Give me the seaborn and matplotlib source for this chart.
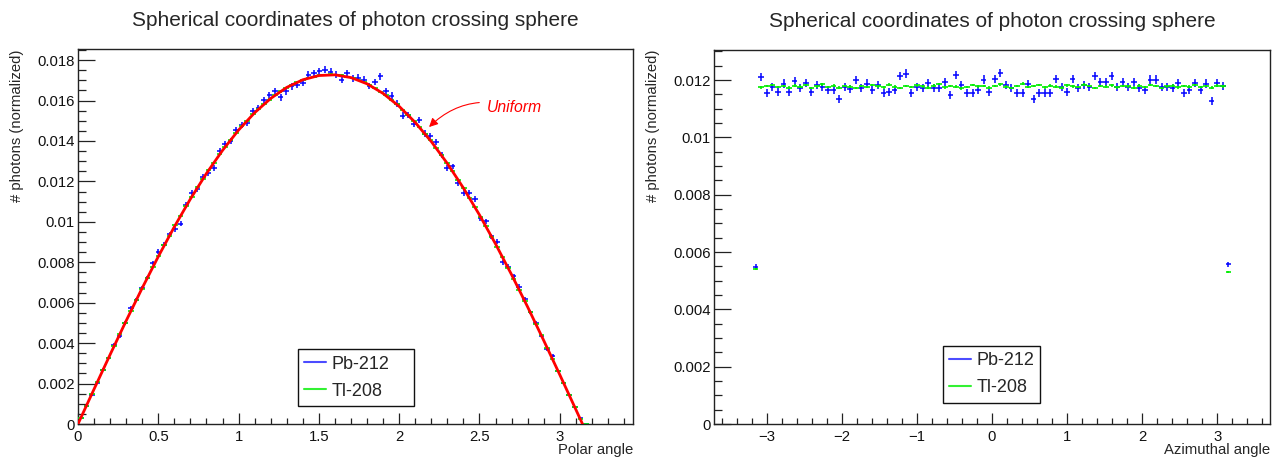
import numpy as np
import pandas as pd
import matplotlib
matplotlib.use("Agg")
import matplotlib.pyplot as plt
from matplotlib.ticker import MultipleLocator, FuncFormatter
from matplotlib.lines import Line2D
import seaborn as sns

# ---------------- text ----------------
TITLE = "Spherical coordinates of photon crossing sphere"
YLABEL = "# photons (normalized)"
XLABEL_POLAR = "Polar angle"
XLABEL_AZIM = "Azimuthal angle"
SERIES = ["Pb-212", "Tl-208"]
FIT_LABEL = "Uniform"

# ---------------- histogram binning ----------------
POLAR_BINS = (100, 0.0, 3.456)     # nbins, low, high
AZIM_BINS = (100, -3.7, 3.7)
POLAR_FIRST_BIN = 0
AZIM_FIRST_BIN = 7

# entries (for statistical error bars)
N_PB = 6.0e5
N_TL = 6.0e6

# ---------------- data: polar angle ----------------
polar_pb = [
    0.00030, 0.00090, 0.00144, 0.00204, 0.00268, 0.00327, 0.00391, 0.00436, 0.00500, 0.00573,
    0.00613, 0.00674, 0.00721, 0.00796, 0.00853, 0.00886, 0.00938, 0.00963, 0.00991, 0.01084,
    0.01144, 0.01164, 0.01224, 0.01241, 0.01266, 0.01348, 0.01385, 0.01401, 0.01455, 0.01480,
    0.01488, 0.01546, 0.01563, 0.01603, 0.01626, 0.01647, 0.01616, 0.01645, 0.01670, 0.01677,
    0.01688, 0.01728, 0.01736, 0.01744, 0.01752, 0.01743, 0.01727, 0.01704, 0.01736, 0.01711,
    0.01712, 0.01703, 0.01672, 0.01692, 0.01719, 0.01645, 0.01624, 0.01585, 0.01525, 0.01528,
    0.01485, 0.01505, 0.01437, 0.01423, 0.01393, 0.01330, 0.01266, 0.01274, 0.01192, 0.01142,
    0.01145, 0.01114, 0.01018, 0.01002, 0.00928, 0.00902, 0.00799, 0.00779, 0.00733, 0.00680,
    0.00616, 0.00552, 0.00502, 0.00437, 0.00370, 0.00337, 0.00262, 0.00203, 0.00143, 0.00084,
    0.00030, 0.0,
]
polar_tl = [
    0.00030, 0.00089, 0.00150, 0.00208, 0.00268, 0.00326, 0.00384, 0.00443, 0.00500, 0.00558,
    0.00613, 0.00670, 0.00722, 0.00778, 0.00829, 0.00883, 0.00932, 0.00984, 0.01030, 0.01079,
    0.01123, 0.01170, 0.01211, 0.01255, 0.01293, 0.01334, 0.01369, 0.01407, 0.01439, 0.01473,
    0.01501, 0.01532, 0.01557, 0.01584, 0.01605, 0.01628, 0.01645, 0.01664, 0.01677, 0.01693,
    0.01702, 0.01713, 0.01718, 0.01725, 0.01726, 0.01729, 0.01726, 0.01724, 0.01717, 0.01712,
    0.01701, 0.01691, 0.01676, 0.01662, 0.01643, 0.01626, 0.01602, 0.01581, 0.01554, 0.01529,
    0.01498, 0.01470, 0.01436, 0.01404, 0.01366, 0.01331, 0.01290, 0.01251, 0.01207, 0.01166,
    0.01119, 0.01075, 0.01025, 0.00979, 0.00927, 0.00878, 0.00824, 0.00773, 0.00717, 0.00664,
    0.00607, 0.00553, 0.00494, 0.00438, 0.00378, 0.00321, 0.00262, 0.00202, 0.00144, 0.00083,
    0.00025, 0.0,
]

# "Uniform" expectation curve
uniform_theta = [0.0, 0.1, 0.2, 0.3, 0.4, 0.5, 0.6, 0.7, 0.8, 0.9, 1.0, 1.1, 1.2, 1.3, 1.4, 1.5,
                 1.6, 1.7, 1.8, 1.9, 2.0, 2.1, 2.2, 2.3, 2.4, 2.5, 2.6, 2.7, 2.8, 2.9, 3.0, 3.1, 3.1416]
uniform_value = [0.0, 0.001725, 0.003433, 0.005107, 0.006729, 0.008284, 0.009757, 0.011132,
                 0.012396, 0.013536, 0.014541, 0.015400, 0.016105, 0.016651, 0.017028, 0.017237,
                 0.017273, 0.017136, 0.016828, 0.016352, 0.015713, 0.014917, 0.013971, 0.012886,
                 0.011673, 0.010342, 0.008908, 0.007385, 0.005789, 0.004133, 0.002439, 0.000718, 0.0]

# ---------------- data: azimuthal angle ----------------
azim_pb = [
    0.00549,
    0.01211, 0.01154, 0.01177, 0.01160, 0.01188, 0.01160, 0.01198, 0.01171, 0.01191, 0.01157, 0.01183, 0.01177,
    0.01165, 0.01165, 0.01133, 0.01177, 0.01168, 0.01200, 0.01171, 0.01188, 0.01165, 0.01183, 0.01154, 0.01160,
    0.01165, 0.01214, 0.01223, 0.01154, 0.01177, 0.01171, 0.01191, 0.01171, 0.01171, 0.01194, 0.01148, 0.01217,
    0.01183, 0.01154, 0.01154, 0.01165, 0.01202, 0.01160, 0.01204, 0.01225, 0.01183, 0.01171, 0.01154, 0.01154,
    0.01185, 0.01133, 0.01154, 0.01154, 0.01154, 0.01204, 0.01177, 0.01157, 0.01204, 0.01171, 0.01183, 0.01177,
    0.01214, 0.01194, 0.01194, 0.01214, 0.01177, 0.01194, 0.01177, 0.01194, 0.01171, 0.01165, 0.01202, 0.01202,
    0.01177, 0.01177, 0.01171, 0.01191, 0.01154, 0.01165, 0.01191, 0.01165, 0.01188, 0.01128, 0.01191, 0.01180,
    0.00557,
]
azim_tl = [
    0.00541,
    0.01175, 0.01180, 0.01183, 0.01176, 0.01179, 0.01174, 0.01181, 0.01177, 0.01183, 0.01172, 0.01178, 0.01185,
    0.01176, 0.01181, 0.01174, 0.01179, 0.01177, 0.01172, 0.01180, 0.01176, 0.01183, 0.01178, 0.01175, 0.01184,
    0.01177, 0.01173, 0.01180, 0.01176, 0.01182, 0.01178, 0.01174, 0.01181, 0.01186, 0.01175, 0.01179, 0.01177,
    0.01171, 0.01176, 0.01183, 0.01178, 0.01180, 0.01174, 0.01179, 0.01185, 0.01177, 0.01173, 0.01180, 0.01188,
    0.01176, 0.01179, 0.01183, 0.01175, 0.01181, 0.01177, 0.01174, 0.01182, 0.01178, 0.01176, 0.01184, 0.01180,
    0.01173, 0.01179, 0.01177, 0.01182, 0.01175, 0.01180, 0.01178, 0.01174, 0.01181, 0.01176, 0.01183, 0.01179,
    0.01172, 0.01178, 0.01181, 0.01175, 0.01180, 0.01177, 0.01183, 0.01176, 0.01179, 0.01174, 0.01181, 0.01178,
    0.00531,
]

# ---------------- style ----------------
PB_COLOR = "#0000ff"
TL_COLOR = "#00ee00"
FIT_COLOR = "#ff0000"

sns.set_style("white")
plt.rcParams["font.family"] = ["Liberation Sans", "DejaVu Sans"]
plt.rcParams["axes.unicode_minus"] = True


def bin_centers(spec, first, count):
    n, lo, hi = spec
    edges = np.linspace(lo, hi, n + 1)
    centers = 0.5 * (edges[:-1] + edges[1:])
    return centers[first:first + count], (hi - lo) / n


def draw_hist(ax, spec, first, values, n_entries, color, lw):
    vals = np.asarray(values, dtype=float)
    x, w = bin_centers(spec, first, len(vals))
    err = np.sqrt(vals / n_entries)
    ax.errorbar(x, vals, xerr=w / 2, yerr=err, fmt="none", ecolor=color,
                elinewidth=lw, capsize=0, zorder=3)


def fmt_num(v, pos):
    if abs(v) < 1e-12:
        return "0"
    s = f"{v:g}"
    return s.replace("-", "\u2212")


fig = plt.figure(figsize=(12.77, 4.62), dpi=100)
W, H = 1277, 462
axL = fig.add_axes([78 / W, (H - 424) / H, 555 / W, 375 / H])
axR = fig.add_axes([714 / W, (H - 424) / H, 556 / W, 374 / H])

# ---- left: polar ----
draw_hist(axL, POLAR_BINS, POLAR_FIRST_BIN, polar_pb, N_PB, PB_COLOR, 1.1)
draw_hist(axL, POLAR_BINS, POLAR_FIRST_BIN, polar_tl, N_TL, TL_COLOR, 1.2)
fit_df = pd.DataFrame({"theta": uniform_theta, "value": uniform_value})
sns.lineplot(data=fit_df, x="theta", y="value", ax=axL, color=FIT_COLOR,
             linewidth=2.0, sort=False, zorder=4, legend=False)
axL.set_xlim(POLAR_BINS[1], POLAR_BINS[2])
axL.set_ylim(0, 0.01855)
axL.xaxis.set_major_locator(MultipleLocator(0.5))
axL.xaxis.set_minor_locator(MultipleLocator(0.1))
axL.yaxis.set_major_locator(MultipleLocator(0.002))
axL.yaxis.set_minor_locator(MultipleLocator(0.0005))

axL.annotate(FIT_LABEL, xy=(2.186, 0.01469), xytext=(2.545, 0.01568),
             color=FIT_COLOR, fontsize=11.3, style="italic", ha="left", va="center",
             arrowprops=dict(arrowstyle="-|>", color=FIT_COLOR, lw=0.8,
                             connectionstyle="arc3,rad=0.3", shrinkA=3, shrinkB=0,
                             mutation_scale=13), zorder=6)

# ---- right: azimuthal ----
draw_hist(axR, AZIM_BINS, AZIM_FIRST_BIN, azim_pb, N_PB, PB_COLOR, 1.1)
draw_hist(axR, AZIM_BINS, AZIM_FIRST_BIN, azim_tl, N_TL, TL_COLOR, 1.2)
axR.set_xlim(AZIM_BINS[1], AZIM_BINS[2])
axR.set_ylim(0, 0.01305)
axR.xaxis.set_major_locator(MultipleLocator(1.0))
axR.xaxis.set_minor_locator(MultipleLocator(0.2))
axR.yaxis.set_major_locator(MultipleLocator(0.002))
axR.yaxis.set_minor_locator(MultipleLocator(0.0005))

# ---- common axis styling ----
for ax, xlabel, legbox in [
    (axL, XLABEL_POLAR, (0.396, 0.048, 0.210, 0.149)),
    (axR, XLABEL_AZIM, (0.412, 0.057, 0.174, 0.152)),
]:
    for sp in ax.spines.values():
        sp.set_visible(True)
        sp.set_color("#222222")
        sp.set_linewidth(1.0)
    ax.xaxis.set_major_formatter(FuncFormatter(fmt_num))
    ax.yaxis.set_major_formatter(FuncFormatter(fmt_num))
    ax.tick_params(axis="both", which="both", direction="in", colors="#222222",
                   labelcolor="#111111", labelsize=10.7, width=0.9,
                   bottom=True, left=True, top=False, right=False)
    ax.tick_params(axis="y", which="major", length=12.2, pad=2.5)
    ax.tick_params(axis="y", which="minor", length=6.1)
    ax.tick_params(axis="x", which="major", length=8.0, pad=4)
    ax.tick_params(axis="x", which="minor", length=4.0)

    ax.set_title(TITLE, fontsize=15, y=1.0 + 29 / 375, va="center", pad=0)

    ax.set_xlabel(xlabel, fontsize=10.7, ha="right", va="center")
    ax.xaxis.set_label_coords(1.0, -26 / 375)
    ax.set_ylabel(YLABEL, fontsize=10.7)
    lab = ax.yaxis.label
    lab.set_rotation_mode("default")
    lab.set_ha("center")
    lab.set_va("top")

    handles = [Line2D([], [], color=PB_COLOR, lw=1.5, alpha=0.7),
               Line2D([], [], color=TL_COLOR, lw=1.5, alpha=0.8)]
    leg = ax.legend(handles, SERIES, loc="lower left", bbox_to_anchor=legbox,
                    mode="expand", borderaxespad=0, fontsize=13, frameon=True,
                    fancybox=False, edgecolor="#111111", framealpha=1,
                    handlelength=1.2, handletextpad=0.3, borderpad=0.35,
                    labelspacing=0.55)
    leg.get_frame().set_linewidth(1.0)
    leg.set_zorder(10)

axL.yaxis.set_label_coords((17 - 78) / 555, 1.0 - 1 / 375)
axR.yaxis.set_label_coords((653 - 714) / 556, 1.0 - 0 / 374)

fig.savefig("out.png", dpi=100)
